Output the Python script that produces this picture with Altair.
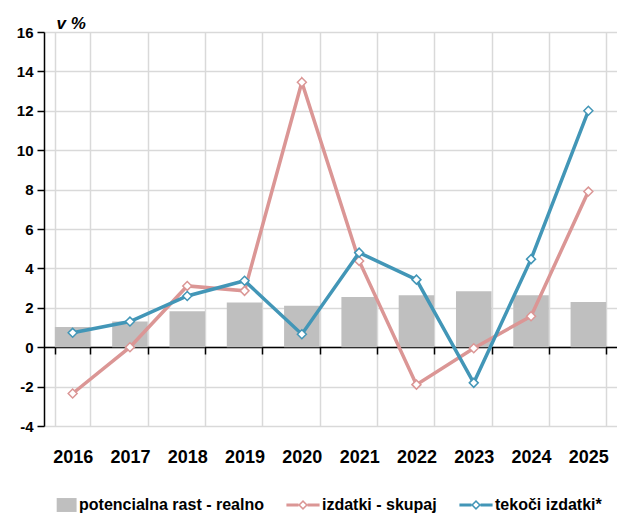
import altair as alt
import pandas as pd

years = ["2016", "2017", "2018", "2019", "2020", "2021", "2022", "2023", "2024", "2025"]
potencialna = [1.02, 1.30, 1.83, 2.27, 2.10, 2.55, 2.64, 2.84, 2.64, 2.30]
skupaj = [-2.35, 0.0, 3.11, 2.86, 13.45, 4.38, -1.90, -0.05, 1.57, 7.90]
tekoci = [0.73, 1.30, 2.60, 3.37, 0.66, 4.80, 3.43, -1.81, 4.47, 12.0]
y_ticks = [-4, -2, 0, 2, 4, 6, 8, 10, 12, 14, 16]

names = ["potencialna rast - realno", "izdatki - skupaj", "tekoči izdatki*"]
colors = ["#bfbfbf", "#db9695", "#4296b7"]

FONT = "Liberation Sans"

bars_df = pd.DataFrame({"year": years, "value": potencialna})
sk_df = pd.DataFrame({"year": years, "value": skupaj})
tk_df = pd.DataFrame({"year": years, "value": tekoci})
legend_df = pd.DataFrame({"series": names})

rect_path = "M-0.2,-0.42H1V0.42H-0.2Z"
line_path = ("M-1,-0.09H-0.27V0.09H-1Z M0.27,-0.09H1V0.09H0.27Z "
             "M0,-0.3L0.3,0L0,0.3L-0.3,0Z M0,-0.17L-0.17,0L0,0.17L0.17,0Z")

legend = alt.Legend(
    title=None,
    orient="none",
    legendX=-1,
    legendY=456,
    direction="horizontal",
    columns=3,
    columnPadding=22,
    padding=0,
    labelOffset=2,
    symbolSize=1100,
    symbolOpacity=1,
    symbolStrokeWidth=0,
    labelFont=FONT,
    labelFontSize=16,
    labelFontWeight="bold",
    labelColor="#000000",
    labelLimit=400,
)

xenc = alt.X(
    "year:N",
    sort=years,
    scale=alt.Scale(paddingInner=0.38, paddingOuter=0.19),
    axis=alt.Axis(
        title=None,
        offset=-79,
        tickBand="extent",
        labelPadding=94,
        labelFont=FONT,
        labelFontSize=18,
        labelFontWeight="bold",
        labelColor="#000000",
        labelAngle=0,
        domainColor="#000000",
        domainWidth=1.5,
        tickColor="#000000",
        tickWidth=1.5,
        tickSize=7,
        grid=True,
        gridColor="#d9d9d9",
        gridWidth=1.5,
    ),
)

yscale = alt.Scale(domain=[-4, 16], nice=False, zero=False)
yaxis = alt.Axis(
    title="v %",
    titleAngle=0,
    titleAlign="left",
    titleBaseline="alphabetic",
    titleX=12,
    titleY=-4,
    titleFont=FONT,
    titleFontSize=17,
    titleFontWeight="bold",
    titleFontStyle="italic",
    titleColor="#000000",
    values=y_ticks,
    labelExpr="datum.value < 0 ? '-' + abs(datum.value) : '' + datum.value",
    labelOverlap=False,
    labelFont=FONT,
    labelFontSize=15,
    labelFontWeight="bold",
    labelColor="#000000",
    labelPadding=4,
    domainColor="#000000",
    domainWidth=1.5,
    tickColor="#000000",
    tickWidth=1.5,
    tickSize=7,
    grid=True,
    gridColor="#d9d9d9",
    gridWidth=1.5,
    minExtent=36,
    maxExtent=36,
)
yenc = alt.Y("value:Q", scale=yscale, axis=yaxis)

bars = alt.Chart(bars_df).mark_bar(color=colors[0]).encode(x=xenc, y=yenc)


def line_layer(df, col):
    base = alt.Chart(df).encode(x=xenc, y=yenc)
    ln = base.mark_line(strokeWidth=3.5, color=col)
    pts = base.mark_point(shape="diamond", size=80, filled=False, fill="white",
                          stroke=col, strokeWidth=1.5, opacity=1)
    return ln, pts


sk_line, sk_pts = line_layer(sk_df, colors[1])
tk_line, tk_pts = line_layer(tk_df, colors[2])

legend_layer = alt.Chart(legend_df).mark_point(filled=True, opacity=0, size=1100).encode(
    color=alt.Color("series:N", scale=alt.Scale(domain=names, range=colors), legend=legend),
    shape=alt.Shape("series:N", scale=alt.Scale(domain=names, range=[rect_path, line_path, line_path]), legend=legend),
)

chart = alt.layer(bars, sk_line, sk_pts, tk_line, tk_pts, legend_layer).properties(
    width=573,
    height=394,
    autosize=alt.AutoSizeParams(type="none"),
    padding={"left": 36, "top": 24, "right": 0, "bottom": 90},
).configure_view(stroke=None).configure(background="white")

chart.save("out.html", embed_options={"renderer": "svg", "actions": False})
